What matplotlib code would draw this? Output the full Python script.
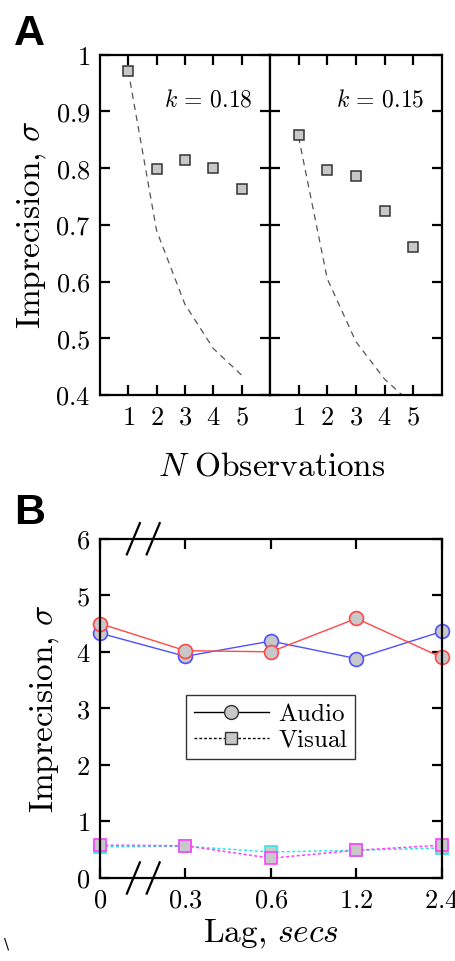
# Imprecision vs observations (A) and vs lag (B)
import numpy as np
import matplotlib
matplotlib.use("Agg")
import matplotlib.pyplot as plt

plt.rcParams['mathtext.fontset'] = 'cm'
plt.rcParams['font.family'] = 'DejaVu Serif'

# ---- panel A data ----
n_obs = [1, 2, 3, 4, 5]
sigma_left = [0.972, 0.799, 0.814, 0.800, 0.764]
sigma_right = [0.859, 0.797, 0.787, 0.724, 0.661]
ideal_left = [0.972, 0.690, 0.560, 0.482, 0.435]
ideal_right = [0.855, 0.605, 0.494, 0.428, 0.382]
k_labels = [r'$k\,=\,0.18$', r'$k\,=\,0.15$']
a_yticks = [0.4, 0.5, 0.6, 0.7, 0.8, 0.9, 1.0]
a_yticklabels = ['$0.4$', '$0.5$', '$0.6$', '$0.7$', '$0.8$', '$0.9$', '$1$']

# ---- panel B data ----
lags = ['0', '0.3', '0.6', '1.2', '2.4']
audio_blue = [4.33, 3.92, 4.19, 3.88, 4.36]
audio_red = [4.50, 4.02, 4.00, 4.59, 3.90]
visual_cyan = [0.55, 0.56, 0.46, 0.49, 0.53]
visual_magenta = [0.58, 0.57, 0.35, 0.49, 0.58]

TICK = 19
LABEL = 24
GRAY = '#c8c8c8'
YLABEL = r'$\mathrm{Imprecision,}\,\sigma$'

fig = plt.figure(figsize=(4.56, 9.61), dpi=100)


def style_axes(ax):
    for s in ax.spines.values():
        s.set_linewidth(1.6)
    ax.tick_params(which='both', direction='in', length=7, width=1.6,
                   top=True, right=True, labelsize=TICK, pad=7)


# ---- A ----
axA1 = fig.add_axes([0.219, 0.589, 0.373, 0.354])
axA2 = fig.add_axes([0.592, 0.589, 0.377, 0.354], sharey=axA1)

for ax, sig, ideal, klab in [(axA1, sigma_left, ideal_left, k_labels[0]),
                             (axA2, sigma_right, ideal_right, k_labels[1])]:
    ax.plot(n_obs, ideal, ls=(0, (5, 4)), color='#555555', lw=0.9)
    ax.plot(n_obs, sig, ls='none', marker='s', ms=7.5, mfc=GRAY,
            mec='#333333', mew=1.1)
    ax.set_xlim(0, 6)
    ax.set_xticks(n_obs)
    ax.set_xticklabels(['$%d$' % n for n in n_obs])
    ax.text(0.9, 0.868, klab, transform=ax.transAxes, ha='right',
            va='center', fontsize=17)
    style_axes(ax)

axA1.set_ylim(0.4, 1.0)
axA1.set_yticks(a_yticks)
axA1.set_yticklabels(a_yticklabels)
axA2.tick_params(labelleft=False)
axA1.set_ylabel(YLABEL, fontsize=LABEL, labelpad=4)
fig.text(0.595, 0.515, r'$N\ \mathrm{Observations}$', ha='center',
         va='center', fontsize=LABEL)

# ---- B ----
axB = fig.add_axes([0.219, 0.0864, 0.75, 0.353])
xpos = np.arange(len(lags))
axB.plot(xpos, visual_cyan, ls=(0, (2, 1.5)), color='#33e6e6', lw=1.1,
         marker='s', ms=8, mfc=GRAY, mec='#33e6e6', mew=1.2, clip_on=False)
axB.plot(xpos, visual_magenta, ls=(0, (2, 1.5)), color='#ff40ff', lw=1.1,
         marker='s', ms=8, mfc=GRAY, mec='#ff40ff', mew=1.2, clip_on=False)
axB.plot(xpos, audio_blue, ls='-', color='#5050ff', lw=1.0,
         marker='o', ms=10, mfc=GRAY, mec='#5050ff', mew=1.2, clip_on=False)
axB.plot(xpos, audio_red, ls='-', color='#ff4848', lw=1.0,
         marker='o', ms=10, mfc=GRAY, mec='#ff4848', mew=1.2, clip_on=False)

# legend handles
axB.plot([], [], ls='-', color='black', lw=1.0, marker='o', ms=10,
         mfc=GRAY, mec='#333333', label=r'$\mathrm{Audio}$')
axB.plot([], [], ls=(0, (2, 1.5)), color='black', lw=1.0, marker='s', ms=8,
         mfc=GRAY, mec='#333333', label=r'$\mathrm{Visual}$')
handles, labels = axB.get_legend_handles_labels()
leg = axB.legend(handles, labels, loc='center', bbox_to_anchor=(0.5, 0.445),
                 fontsize=18, frameon=True, fancybox=False, handlelength=3.0,
                 handletextpad=0.35, borderpad=0.3, labelspacing=0.1,
                 borderaxespad=0)
leg.get_frame().set_edgecolor('black')
leg.get_frame().set_linewidth(1.0)

axB.set_xlim(0, len(lags) - 1)
axB.set_ylim(0, 6)
axB.set_xticks(xpos)
axB.set_xticklabels(['$%s$' % l for l in lags])
axB.set_yticks(range(7))
axB.set_yticklabels(['$%d$' % v for v in range(7)])
style_axes(axB)
axB.set_ylabel(YLABEL, fontsize=LABEL, labelpad=10)
axB.set_xlabel(r'$\mathrm{Lag,}\,secs$', fontsize=LABEL, labelpad=4)

# axis break marks on top and bottom spines
for yb in (0.0, 1.0):
    for xb in (0.098, 0.156):
        axB.plot([xb - 0.019, xb + 0.019], [yb - 0.046, yb + 0.046],
                 transform=axB.transAxes, color='black', lw=1.6,
                 clip_on=False)

# panel letters
fig.text(0.03, 0.985, 'A', fontsize=31, fontweight='bold',
         family='Liberation Sans', va='top', ha='left')
fig.text(0.03, 0.487, 'B', fontsize=31, fontweight='bold',
         family='Liberation Sans', va='top', ha='left')
fig.text(0.008, 0.01, '\\', fontsize=11, va='bottom', ha='left')

fig.savefig('out.png', dpi=100)
